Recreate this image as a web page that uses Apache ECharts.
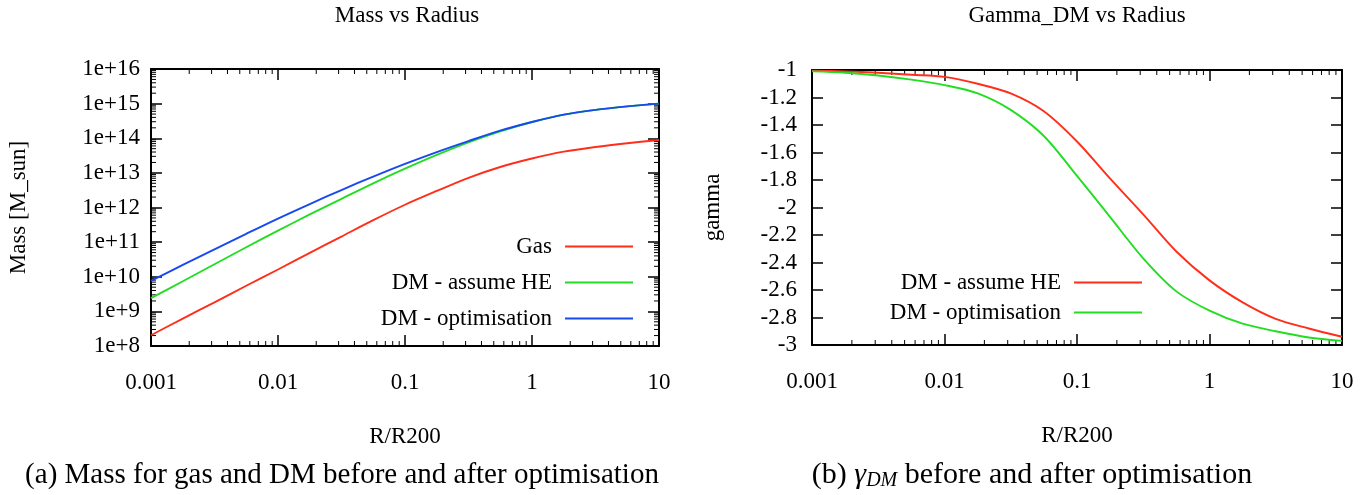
<!DOCTYPE html>
<html>
<head>
<meta charset="utf-8">
<script src="https://cdn.jsdelivr.net/npm/echarts@6/dist/echarts.min.js"></script>
<style>
  html, body { margin: 0; padding: 0; background: #fff; }
  #chart { width: 1360px; height: 495px; }
</style>
</head>
<body>
<div id="chart"></div>
<script>
// values, R/R200 on a log axis (quarter decades)
const radius = [0.001, 0.00178, 0.00316, 0.00562, 0.01, 0.0178, 0.0316, 0.0562, 0.1, 0.178, 0.316, 0.562, 1, 1.78, 3.16, 5.62, 10];

const massGas = [2.04e8, 6.2e8, 1.82e9, 5.5e9, 1.62e10, 4.9e10, 1.45e11, 4.3e11, 1.2e12, 3.0e12, 7.2e12, 1.48e13, 2.6e13, 4.1e13, 5.6e13, 7.2e13, 8.9e13];
const massDmHE = [2.4e9, 7.4e9, 2.3e10, 7.1e10, 2.14e11, 6.3e11, 1.78e12, 5.0e12, 1.32e13, 3.3e13, 7.6e13, 1.58e14, 2.95e14, 4.8e14, 6.6e14, 8.3e14, 1.0e15];
const massDmOpt = [7.6e9, 2.2e10, 6.2e10, 1.74e11, 4.8e11, 1.26e12, 3.2e12, 7.8e12, 1.82e13, 4.0e13, 8.3e13, 1.66e14, 2.95e14, 4.8e14, 6.6e14, 8.3e14, 1.0e15];

const gammaDmHE = [-1.005, -1.01, -1.02, -1.035, -1.05, -1.10, -1.17, -1.30, -1.52, -1.79, -2.05, -2.32, -2.53, -2.69, -2.81, -2.88, -2.94];
const gammaDmOpt = [-1.01, -1.02, -1.04, -1.07, -1.11, -1.17, -1.29, -1.48, -1.77, -2.07, -2.37, -2.61, -2.75, -2.845, -2.90, -2.945, -2.97];

const rTickLabels = ['0.001', '0.01', '0.1', '1', '10'];

const FONT = 'Liberation Serif';
const RED = '#ff2e1a';
const GREEN = '#22dd22';
const BLUE = '#1848f0';

function pairs(xs, ys) {
  return xs.map((x, i) => [x, ys[i]]);
}

function rLabel(v) {
  const e = Math.round(Math.log10(v));
  return rTickLabels[e + 3] || '';
}

function frameAxis(gridIndex, position, extra) {
  return Object.assign({
    gridIndex: gridIndex,
    position: position,
    axisLine: { show: true, onZero: false, lineStyle: { color: '#000', width: 2 } },
    axisTick: { show: true, inside: true, length: 11, lineStyle: { color: '#000', width: 1.5 } },
    axisLabel: { show: false },
    splitLine: { show: false },
  }, extra);
}

const labelStyle = { fontFamily: FONT, fontSize: 23, color: '#000' };

function line(name, xi, yi, data, color) {
  return {
    name: name,
    type: 'line',
    xAxisIndex: xi,
    yAxisIndex: yi,
    data: data,
    showSymbol: false,
    symbol: 'none',
    smooth: 0.3,
    lineStyle: { color: color, width: 1.9 },
    itemStyle: { color: color },
    animation: false,
    silent: true,
  };
}

const legendNames = { HE_b: 'DM - assume HE', OPT_b: 'DM - optimisation' };

const option = {
  animation: false,
  grid: [
    { left: 151, right: 701, top: 69, bottom: 149 },
    { left: 812, right: 18, top: 70, bottom: 150 },
  ],
  xAxis: [
    frameAxis(0, 'bottom', {
      type: 'log', logBase: 10, min: 0.001, max: 10,
      axisLabel: Object.assign({ show: true, margin: 25, formatter: rLabel }, labelStyle),
      name: 'R/R200', nameLocation: 'middle', nameGap: 79,
      nameTextStyle: labelStyle,
    }),
    frameAxis(0, 'top', { type: 'log', logBase: 10, min: 0.001, max: 10 }),
    frameAxis(1, 'bottom', {
      type: 'log', logBase: 10, min: 0.001, max: 10,
      axisLabel: Object.assign({ show: true, margin: 25, formatter: rLabel }, labelStyle),
      name: 'R/R200', nameLocation: 'middle', nameGap: 79,
      nameTextStyle: labelStyle,
    }),
    frameAxis(1, 'top', { type: 'log', logBase: 10, min: 0.001, max: 10 }),
  ],
  yAxis: [
    frameAxis(0, 'left', {
      type: 'log', logBase: 10, min: 1e8, max: 1e16, splitNumber: 8,
      axisLabel: Object.assign({
        show: true, margin: 11,
        formatter: v => '1e+' + Math.round(Math.log10(v)),
      }, labelStyle),
      name: 'Mass [M_sun]', nameLocation: 'middle', nameGap: 121,
      nameTextStyle: labelStyle,
    }),
    frameAxis(0, 'right', { type: 'log', logBase: 10, min: 1e8, max: 1e16, splitNumber: 8 }),
    frameAxis(1, 'left', {
      type: 'value', min: -3, max: -1, interval: 0.2,
      axisLabel: Object.assign({ show: true, margin: 15 }, labelStyle),
      name: 'gamma', nameLocation: 'middle', nameGap: 88,
      nameTextStyle: labelStyle,
    }),
    frameAxis(1, 'right', { type: 'value', min: -3, max: -1, interval: 0.2 }),
  ],
  legend: [
    {
      data: ['Gas', 'DM - assume HE', 'DM - optimisation'],
      orient: 'vertical', align: 'right',
      right: 722, top: 230,
      icon: 'rect', itemWidth: 68, itemHeight: 2, itemGap: 13,
      selectedMode: false,
      textStyle: Object.assign({ padding: [0, 8, 0, 0] }, labelStyle),
    },
    {
      data: ['HE_b', 'OPT_b'],
      formatter: n => legendNames[n],
      orient: 'vertical', align: 'right',
      right: 213, top: 266,
      icon: 'rect', itemWidth: 68, itemHeight: 2, itemGap: 7,
      selectedMode: false,
      textStyle: Object.assign({ padding: [0, 8, 0, 0] }, labelStyle),
    },
  ],
  series: [
    line('Gas', 0, 0, pairs(radius, massGas), RED),
    line('DM - assume HE', 0, 0, pairs(radius, massDmHE), GREEN),
    line('DM - optimisation', 0, 0, pairs(radius, massDmOpt), BLUE),
    line('HE_b', 2, 2, pairs(radius, gammaDmHE), RED),
    line('OPT_b', 2, 2, pairs(radius, gammaDmOpt), GREEN),
  ],
};

const chart = echarts.init(document.getElementById('chart'), null, { renderer: 'canvas' });
chart.setOption(option);

// minor ticks (2..9 in each decade), placed through the axes' own scales
function minorTicks() {
  const els = [];
  const tick = (x1, y1, x2, y2) => els.push({
    type: 'line', silent: true,
    shape: { x1: x1, y1: y1, x2: x2, y2: y2 },
    style: { stroke: '#000', lineWidth: 1 },
  });
  const len = 5;
  [[0, 0], [2, 2]].forEach(([xi, yi]) => {
    const yAx = option.yAxis[yi];
    const yBot = chart.convertToPixel({ yAxisIndex: yi }, yAx.min);
    const yTop = chart.convertToPixel({ yAxisIndex: yi }, yAx.max);
    const xL = chart.convertToPixel({ xAxisIndex: xi }, 0.001);
    const xR = chart.convertToPixel({ xAxisIndex: xi }, 10);
    for (let e = -3; e < 1; e++) {
      for (let m = 2; m <= 9; m++) {
        const px = chart.convertToPixel({ xAxisIndex: xi }, m * Math.pow(10, e));
        tick(px, yBot, px, yBot - len);
        tick(px, yTop, px, yTop + len);
      }
    }
    if (yAx.type === 'log') {
      for (let e = 8; e < 16; e++) {
        for (let m = 2; m <= 9; m++) {
          const py = chart.convertToPixel({ yAxisIndex: yi }, m * Math.pow(10, e));
          tick(xL, py, xL + len, py);
          tick(xR, py, xR - len, py);
        }
      }
    }
  });
  return els;
}

function label(text, x, y, size) {
  return {
    type: 'text', silent: true, x: x, y: y,
    style: { text: text, font: size + 'px "' + FONT + '"', fill: '#000', align: 'center', verticalAlign: 'middle' },
  };
}

chart.setOption({
  graphic: minorTicks().concat([
    label('Mass vs Radius', 407, 16, 23),
    label('Gamma_DM vs Radius', 1077, 16, 23),
    label('(a) Mass for gas and DM before and after optimisation', 342, 475, 29),
    {
      type: 'text', silent: true, x: 1032, y: 475,
      style: {
        text: '(b) {g|γ}{s|DM} before and after optimisation',
        font: '30px "' + FONT + '"', fill: '#000', align: 'center', verticalAlign: 'middle',
        rich: {
          g: { fontFamily: FONT, fontSize: 30, fontStyle: 'italic', fill: '#000' },
          s: { fontFamily: FONT, fontSize: 20, fontStyle: 'italic', fill: '#000', verticalAlign: 'bottom', padding: [12, 0, 0, 0] },
        },
      },
    },
  ]),
});
</script>
</body>
</html>
